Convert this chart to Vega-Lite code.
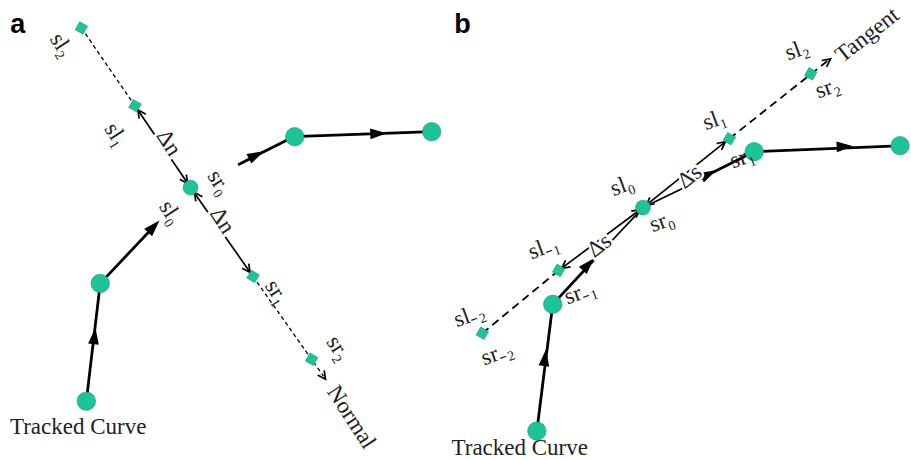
{
  "$schema": "https://vega.github.io/schema/vega-lite/v6.json",
  "width": 911,
  "height": 460,
  "autosize": {"type": "fit", "contains": "padding"},
  "padding": 0,
  "background": "white",
  "config": {"view": {"stroke": null}},
  "datasets": {
    "segments": [
      {"kind": "curve", "x": 87, "y": 402, "x2": 101, "y2": 284},
      {"kind": "curve", "x": 101, "y": 284, "x2": 157, "y2": 225},
      {"kind": "curve", "x": 240, "y": 165, "x2": 296, "y2": 137},
      {"kind": "curve", "x": 296, "y": 137, "x2": 435, "y2": 132},
      {"kind": "dash_a", "x": 82, "y": 28, "x2": 136, "y2": 106},
      {"kind": "dash_a", "x": 255, "y": 277, "x2": 326, "y2": 377},
      {"kind": "thin", "x": 136, "y": 106, "x2": 192, "y2": 188},
      {"kind": "thin", "x": 192, "y": 188, "x2": 255, "y2": 277},
      {"kind": "curve", "x": 541, "y": 432, "x2": 557, "y2": 305},
      {"kind": "curve", "x": 557, "y": 305, "x2": 612, "y2": 246},
      {"kind": "thin", "x": 612, "y": 246, "x2": 648, "y2": 208},
      {"kind": "thin", "x": 648, "y": 208, "x2": 694, "y2": 186},
      {"kind": "curve", "x": 698, "y": 183, "x2": 760, "y2": 152},
      {"kind": "curve", "x": 760, "y": 152, "x2": 911, "y2": 146},
      {"kind": "dash_b", "x": 486, "y": 334, "x2": 563, "y2": 271},
      {"kind": "dash_b", "x": 735, "y": 139, "x2": 834, "y2": 61},
      {"kind": "thin", "x": 563, "y": 271, "x2": 648, "y2": 208},
      {"kind": "thin", "x": 648, "y": 208, "x2": 735, "y2": 139}
    ],
    "arrows": [
      {"kind": "solid", "x": 95, "y": 338, "heading": 7},
      {"kind": "solid", "x": 154, "y": 228, "heading": 43},
      {"kind": "solid", "x": 257, "y": 156, "heading": 63},
      {"kind": "solid", "x": 380, "y": 134, "heading": 88},
      {"kind": "open", "x": 139, "y": 110, "heading": -34},
      {"kind": "open", "x": 189, "y": 184, "heading": 146},
      {"kind": "open", "x": 196, "y": 193, "heading": -35},
      {"kind": "open", "x": 252, "y": 273, "heading": 145},
      {"kind": "open", "x": 328, "y": 380, "heading": 145},
      {"kind": "solid", "x": 549, "y": 360, "heading": 7},
      {"kind": "solid", "x": 592, "y": 266, "heading": 43},
      {"kind": "solid", "x": 713, "y": 175, "heading": 63},
      {"kind": "solid", "x": 850, "y": 147, "heading": 88},
      {"kind": "open", "x": 731, "y": 142, "heading": 52},
      {"kind": "open", "x": 651, "y": 206, "heading": 232},
      {"kind": "open", "x": 566, "y": 269, "heading": -127},
      {"kind": "open", "x": 645, "y": 210, "heading": 53},
      {"kind": "open", "x": 837, "y": 59, "heading": 53}
    ],
    "nodes": [
      {"kind": "node", "x": 87, "y": 402},
      {"kind": "node", "x": 101, "y": 284},
      {"kind": "centre", "x": 192, "y": 188},
      {"kind": "node", "x": 297, "y": 137},
      {"kind": "node", "x": 435, "y": 132},
      {"kind": "node", "x": 541, "y": 432},
      {"kind": "node", "x": 557, "y": 305},
      {"kind": "centre", "x": 648, "y": 208},
      {"kind": "node", "x": 760, "y": 152},
      {"kind": "node", "x": 907, "y": 146},
      {"kind": "sample", "x": 82, "y": 28},
      {"kind": "sample", "x": 136, "y": 106},
      {"kind": "sample", "x": 255, "y": 277},
      {"kind": "sample", "x": 314, "y": 360},
      {"kind": "sample", "x": 486, "y": 334},
      {"kind": "sample", "x": 563, "y": 271},
      {"kind": "sample", "x": 735, "y": 139},
      {"kind": "sample", "x": 817, "y": 74}
    ],
    "labels": [
      {"grp": "normal", "text": "sl₂", "x": 62, "y": 45},
      {"grp": "normal", "text": "sl₁", "x": 117, "y": 135},
      {"grp": "normal", "text": "sl₀", "x": 172, "y": 213},
      {"grp": "normal", "text": "sr₀", "x": 221, "y": 183},
      {"grp": "normal", "text": "sr₁", "x": 279, "y": 293},
      {"grp": "normal", "text": "sr₂", "x": 341, "y": 349},
      {"grp": "normal", "text": "Normal", "x": 354, "y": 418},
      {"grp": "delta_n", "text": "Δn", "x": 170, "y": 143},
      {"grp": "delta_n", "text": "Δn", "x": 224, "y": 221},
      {"grp": "tangent", "text": "sl₂", "x": 803, "y": 50},
      {"grp": "tangent", "text": "sr₂", "x": 834, "y": 88},
      {"grp": "tangent", "text": "sl₁", "x": 720, "y": 120},
      {"grp": "tangent", "text": "sr₁", "x": 748, "y": 158},
      {"grp": "tangent", "text": "sl₀", "x": 627, "y": 186},
      {"grp": "tangent", "text": "sr₀", "x": 667, "y": 222},
      {"grp": "tangent", "text": "sl₋₁", "x": 548, "y": 248},
      {"grp": "tangent", "text": "sr₋₁", "x": 585, "y": 293},
      {"grp": "tangent", "text": "sl₋₂", "x": 473, "y": 316},
      {"grp": "tangent", "text": "sr₋₂", "x": 501, "y": 354},
      {"grp": "delta_s", "text": "Δs", "x": 695, "y": 177},
      {"grp": "delta_s", "text": "Δs", "x": 604, "y": 246},
      {"grp": "delta_s", "text": "Tangent", "x": 874, "y": 35},
      {"grp": "caption", "text": "Tracked Curve", "x": 10, "y": 428},
      {"grp": "caption", "text": "Tracked Curve", "x": 455, "y": 449},
      {"grp": "panel", "text": "a", "x": 18, "y": 25},
      {"grp": "panel", "text": "b", "x": 466, "y": 25}
    ]
  },
  "encoding": {
    "x": {"field": "x", "type": "quantitative", "scale": {"domain": [0, 911], "nice": false, "zero": false}, "axis": null},
    "y": {"field": "y", "type": "quantitative", "scale": {"domain": [0, 460], "nice": false, "zero": false, "reverse": true}, "axis": null}
  },
  "layer": [
    {
      "data": {"name": "segments"},
      "transform": [{"filter": "datum.kind === 'dash_a'"}],
      "mark": {"type": "rule", "color": "black", "strokeWidth": 1.3, "strokeDash": [4, 3]},
      "encoding": {"x2": {"field": "x2"}, "y2": {"field": "y2"}}
    },
    {
      "data": {"name": "segments"},
      "transform": [{"filter": "datum.kind === 'dash_b'"}],
      "mark": {"type": "rule", "color": "black", "strokeWidth": 1.8, "strokeDash": [8, 5]},
      "encoding": {"x2": {"field": "x2"}, "y2": {"field": "y2"}}
    },
    {
      "data": {"name": "segments"},
      "transform": [{"filter": "datum.kind === 'thin'"}],
      "mark": {"type": "rule", "color": "black", "strokeWidth": 1.7},
      "encoding": {"x2": {"field": "x2"}, "y2": {"field": "y2"}}
    },
    {
      "data": {"name": "segments"},
      "transform": [{"filter": "datum.kind === 'curve'"}],
      "mark": {"type": "rule", "color": "black", "strokeWidth": 2.8},
      "encoding": {"x2": {"field": "x2"}, "y2": {"field": "y2"}}
    },
    {
      "data": {"name": "arrows"},
      "transform": [{"filter": "datum.kind === 'solid'"}],
      "mark": {"type": "point", "shape": "M0,-1L0.55,0.7L-0.55,0.7Z", "filled": true, "color": "black", "opacity": 1, "size": 380},
      "encoding": {"angle": {"field": "heading", "type": "quantitative", "scale": null}}
    },
    {
      "data": {"name": "arrows"},
      "transform": [{"filter": "datum.kind === 'open'"}],
      "mark": {"type": "point", "shape": "M-0.5,1L0,0L0.5,1", "filled": false, "color": "black", "strokeWidth": 1.7, "opacity": 1, "size": 256},
      "encoding": {"angle": {"field": "heading", "type": "quantitative", "scale": null}}
    },
    {
      "data": {"name": "nodes"},
      "transform": [{"filter": "datum.kind === 'node'"}],
      "mark": {"type": "point", "shape": "circle", "filled": true, "fill": "#1DC497", "stroke": "#13967a", "strokeWidth": 0.6, "opacity": 1, "size": 340}
    },
    {
      "data": {"name": "nodes"},
      "transform": [{"filter": "datum.kind === 'centre'"}],
      "mark": {"type": "point", "shape": "circle", "filled": true, "fill": "#1DC497", "stroke": "#13967a", "strokeWidth": 0.6, "opacity": 1, "size": 220}
    },
    {
      "data": {"name": "nodes"},
      "transform": [{"filter": "datum.kind === 'sample'"}],
      "mark": {"type": "point", "shape": "square", "filled": true, "fill": "#1DC497", "stroke": "#13967a", "strokeWidth": 0.5, "opacity": 1, "size": 85, "angle": 30}
    },
    {
      "data": {"name": "labels"},
      "transform": [{"filter": "datum.grp === 'normal'"}],
      "mark": {"type": "text", "font": "Liberation Serif", "fontSize": 23, "color": "#222", "angle": 57, "align": "center", "baseline": "middle"},
      "encoding": {"text": {"field": "text"}}
    },
    {
      "data": {"name": "labels"},
      "transform": [{"filter": "datum.grp === 'delta_n'"}],
      "mark": {"type": "text", "font": "Liberation Serif", "fontSize": 23, "color": "white", "stroke": "white", "strokeWidth": 5, "angle": 57, "align": "center", "baseline": "middle"},
      "encoding": {"text": {"field": "text"}}
    },
    {
      "data": {"name": "labels"},
      "transform": [{"filter": "datum.grp === 'delta_n'"}],
      "mark": {"type": "text", "font": "Liberation Serif", "fontSize": 23, "color": "#222", "angle": 57, "align": "center", "baseline": "middle"},
      "encoding": {"text": {"field": "text"}}
    },
    {
      "data": {"name": "labels"},
      "transform": [{"filter": "datum.grp === 'tangent'"}],
      "mark": {"type": "text", "font": "Liberation Serif", "fontSize": 23, "color": "#222", "angle": -20, "align": "center", "baseline": "middle"},
      "encoding": {"text": {"field": "text"}}
    },
    {
      "data": {"name": "labels"},
      "transform": [{"filter": "datum.grp === 'delta_s'"}],
      "mark": {"type": "text", "font": "Liberation Serif", "fontSize": 23, "color": "white", "stroke": "white", "strokeWidth": 5, "angle": -38, "align": "center", "baseline": "middle"},
      "encoding": {"text": {"field": "text"}}
    },
    {
      "data": {"name": "labels"},
      "transform": [{"filter": "datum.grp === 'delta_s'"}],
      "mark": {"type": "text", "font": "Liberation Serif", "fontSize": 23, "color": "#222", "angle": -38, "align": "center", "baseline": "middle"},
      "encoding": {"text": {"field": "text"}}
    },
    {
      "data": {"name": "labels"},
      "transform": [{"filter": "datum.grp === 'caption'"}],
      "mark": {"type": "text", "font": "Liberation Serif", "fontSize": 23, "color": "#222", "align": "left", "baseline": "middle"},
      "encoding": {"text": {"field": "text"}}
    },
    {
      "data": {"name": "labels"},
      "transform": [{"filter": "datum.grp === 'panel'"}],
      "mark": {"type": "text", "font": "Liberation Sans", "fontWeight": "bold", "fontSize": 27, "color": "black", "align": "center", "baseline": "middle"},
      "encoding": {"text": {"field": "text"}}
    }
  ]
}
